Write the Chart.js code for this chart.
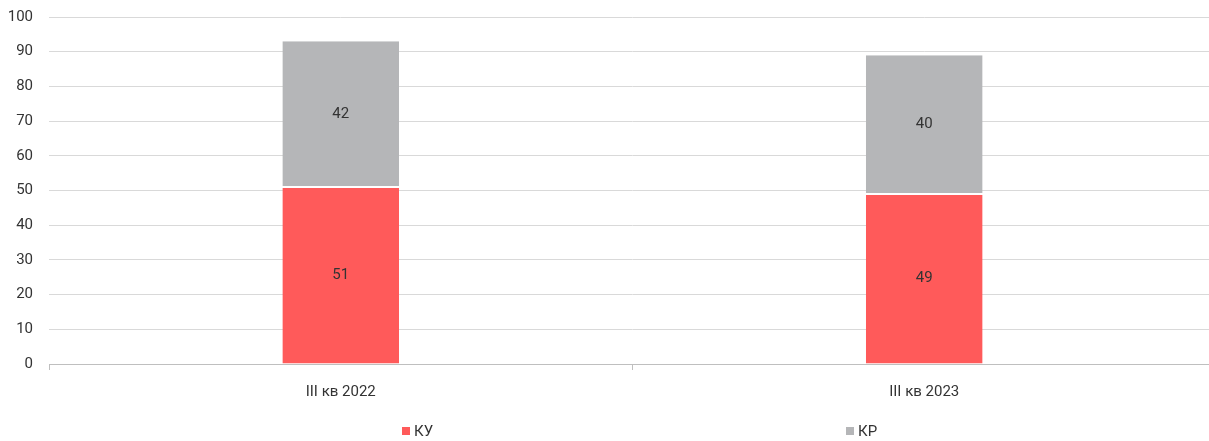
<!DOCTYPE html>
<html><head><meta charset="utf-8">
<script src="https://cdn.jsdelivr.net/npm/chart.js@4/dist/chart.umd.min.js"></script>
<style>
html,body{margin:0;padding:0;overflow:hidden;background:#fff;}
#wrap{width:1216px;height:441px;position:relative;}
</style></head>
<body><div id="wrap"><canvas id="c"></canvas></div>
<script>
const categories = ['III кв 2022', 'III кв 2023'];
const seriesNames = ['КУ', 'КР'];
const kuValues = [51, 49];
const krValues = [42, 40];
const yTicks = [0, 10, 20, 30, 40, 50, 60, 70, 80, 90, 100];

const FONT = 'Roboto, "Liberation Sans", sans-serif';
const TXT = '#333333';
const RED = '#FF5A5A';
const GREY = '#B5B6B8';

const valueLabels = {
  id: 'valueLabels',
  afterDatasetsDraw(chart) {
    const ctx = chart.ctx;
    ctx.save();
    ctx.font = '15px ' + FONT;
    ctx.fillStyle = TXT;
    ctx.textAlign = 'center';
    ctx.textBaseline = 'middle';
    chart.data.datasets.forEach((ds, di) => {
      const meta = chart.getDatasetMeta(di);
      meta.data.forEach((bar, i) => {
        const y = (bar.y + bar.base) / 2;
        ctx.fillText(String(ds.data[i]), bar.x, y);
      });
    });
    ctx.restore();
  }
};

const customLegend = {
  id: 'customLegend',
  afterDraw(chart) {
    const ctx = chart.ctx;
    const xs = [402, 846];
    const y = 431;
    ctx.save();
    ctx.font = '15px ' + FONT;
    ctx.textBaseline = 'middle';
    ctx.textAlign = 'left';
    chart.data.datasets.forEach((ds, i) => {
      ctx.fillStyle = ds.backgroundColor;
      ctx.fillRect(xs[i], y - 4, 8, 8);
      ctx.fillStyle = TXT;
      ctx.fillText(ds.label, xs[i] + 12, y + 1);
    });
    ctx.restore();
  }
};

new Chart(document.getElementById('c'), {
  type: 'bar',
  data: {
    labels: categories,
    datasets: [
      { label: seriesNames[0], data: kuValues, backgroundColor: RED, borderColor: '#ffffff', borderWidth: {top: 1, bottom: 0, left: 0, right: 0}, borderSkipped: false, barPercentage: 0.4, categoryPercentage: 0.5 },
      { label: seriesNames[1], data: krValues, backgroundColor: GREY, borderColor: '#ffffff', borderWidth: {top: 0, bottom: 1, left: 0, right: 0}, borderSkipped: false, barPercentage: 0.4, categoryPercentage: 0.5 }
    ]
  },
  options: {
    responsive: true,
    maintainAspectRatio: false,
    animation: false,
    layout: { padding: { top: 17, bottom: 27, left: 0, right: 0 } },
    plugins: { legend: { display: false }, tooltip: { enabled: false } },
    scales: {
      x: {
        stacked: true,
        grid: { offset: true, drawOnChartArea: false, drawTicks: true, tickLength: 6, color: '#BFBFBF' },
        border: { display: true, color: '#BFBFBF' },
        ticks: { color: TXT, font: { family: FONT, size: 15 }, padding: 13 }
      },
      y: {
        stacked: true,
        min: 0, max: 100,
        afterBuildTicks(scale) { scale.ticks = yTicks.map(v => ({ value: v })); },
        afterFit(scale) { scale.width = 49; scale.paddingTop = 0; scale.paddingBottom = 0; },
        grid: { color: '#D9D9D9', drawTicks: false },
        border: { display: false },
        ticks: { color: TXT, font: { family: FONT, size: 15 }, padding: 16 }
      }
    }
  },
  plugins: [valueLabels, customLegend]
});
</script></body></html>
